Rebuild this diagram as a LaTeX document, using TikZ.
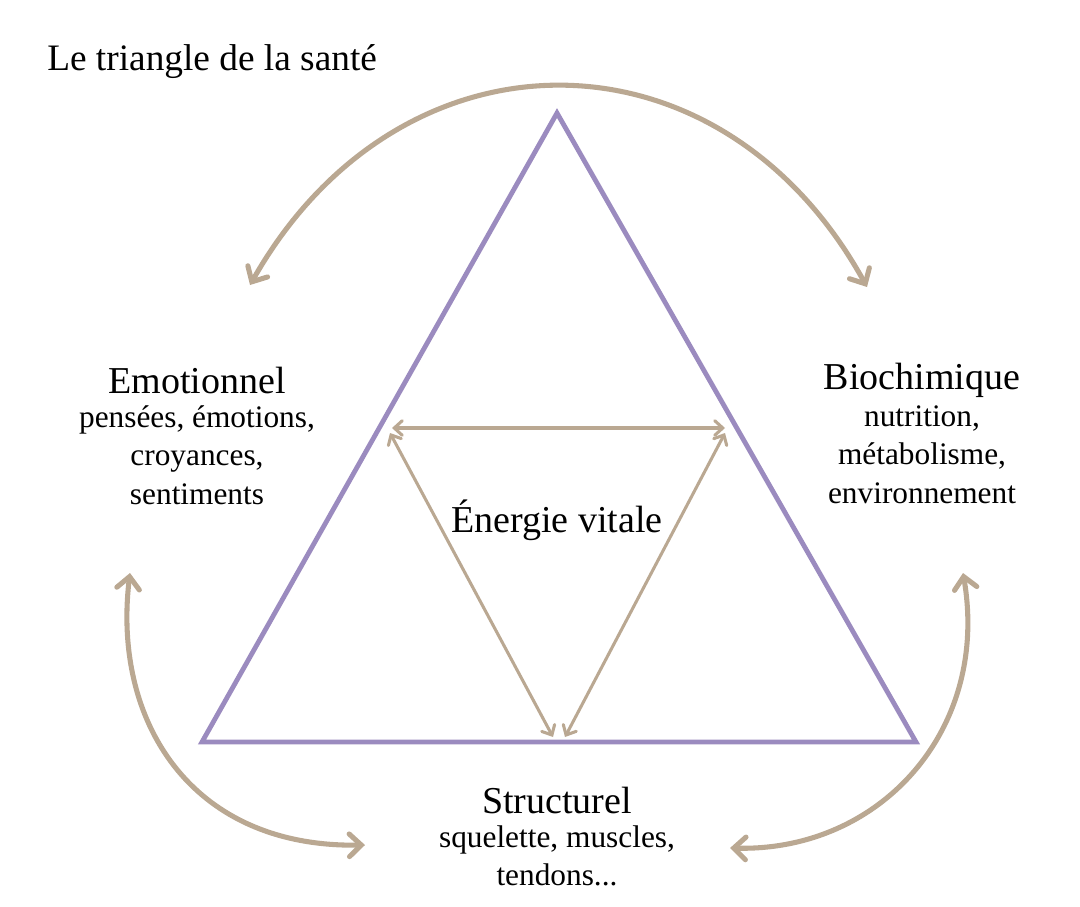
\documentclass[tikz,border=0pt]{standalone}
\usetikzlibrary{arrows.meta}
\usepackage{fontspec}
\setmainfont{Liberation Serif}
\definecolor{tan}{HTML}{BAA892}
\definecolor{lav}{HTML}{9B8BBF}
\begin{document}
\begin{tikzpicture}[x=0.75pt,y=-0.75pt,
  tri/.style={draw=lav,line width=3.6pt,line join=miter},
  bigarr/.style={draw=tan,line width=3.8pt,line cap=round,{Straight Barb[length=9pt,width=17pt,line cap=round]}-{Straight Barb[length=9pt,width=17pt,line cap=round]}},
  smallarr/.style={draw=tan,line width=2.3pt,line cap=round,{Straight Barb[length=6pt,width=11pt,line cap=round]}-{Straight Barb[length=6pt,width=11pt,line cap=round]}},
  head/.style={font=\fontsize{28.5}{32}\selectfont},
  sub/.style={font=\fontsize{23.5}{29}\selectfont,align=center,inner sep=0pt}]
\useasboundingbox (0,0) rectangle (1080,906);
\coordinate (A) at (557,113);
\coordinate (B) at (202,742);
\coordinate (C) at (916,742);
\draw[tri] (A) -- (B) -- (C) -- cycle;
\node[anchor=west,inner sep=0pt,font=\fontsize{28}{32}\selectfont] (title) at (47,62) {Le triangle de la santé};
\node[head] (emo) at (197,380) {Emotionnel};
\node[sub,anchor=north] (emos) at (197,405) {pensées, émotions,\\croyances,\\sentiments};
\node[head] (bio) at (922,380) {Biochimique};
\node[sub,anchor=north] (bios) at (922,405) {nutrition,\\métabolisme,\\environnement};
\node[head] (str) at (557,800) {Structurel};
\node[sub,anchor=north] (strs) at (557,825) {squelette, muscles,\\tendons...};
\node[head] (ev) at (557,520) {Énergie vitale};
\coordinate (t1) at (250,285); \coordinate (t2) at (867,287);
\coordinate (l1) at (130,573); \coordinate (l2) at (365,845);
\coordinate (r1) at (963,573); \coordinate (r2) at (730,848);
\draw[bigarr] (t1) .. controls (400,20) and (720,20) .. (t2);
\draw[bigarr] (l1) .. controls (112,720) and (190,848) .. (l2);
\draw[bigarr] (r1) .. controls (990,730) and (880,852) .. (r2);
\coordinate (h1) at (392,428); \coordinate (h2) at (725,428);
\coordinate (d1) at (390,433); \coordinate (d2) at (553,737);
\coordinate (e1) at (725,433); \coordinate (e2) at (565,737);
\draw[smallarr] (h1) -- (h2);
\draw[smallarr] (d1) -- (d2);
\draw[smallarr] (e1) -- (e2);
\end{tikzpicture}
\end{document}
